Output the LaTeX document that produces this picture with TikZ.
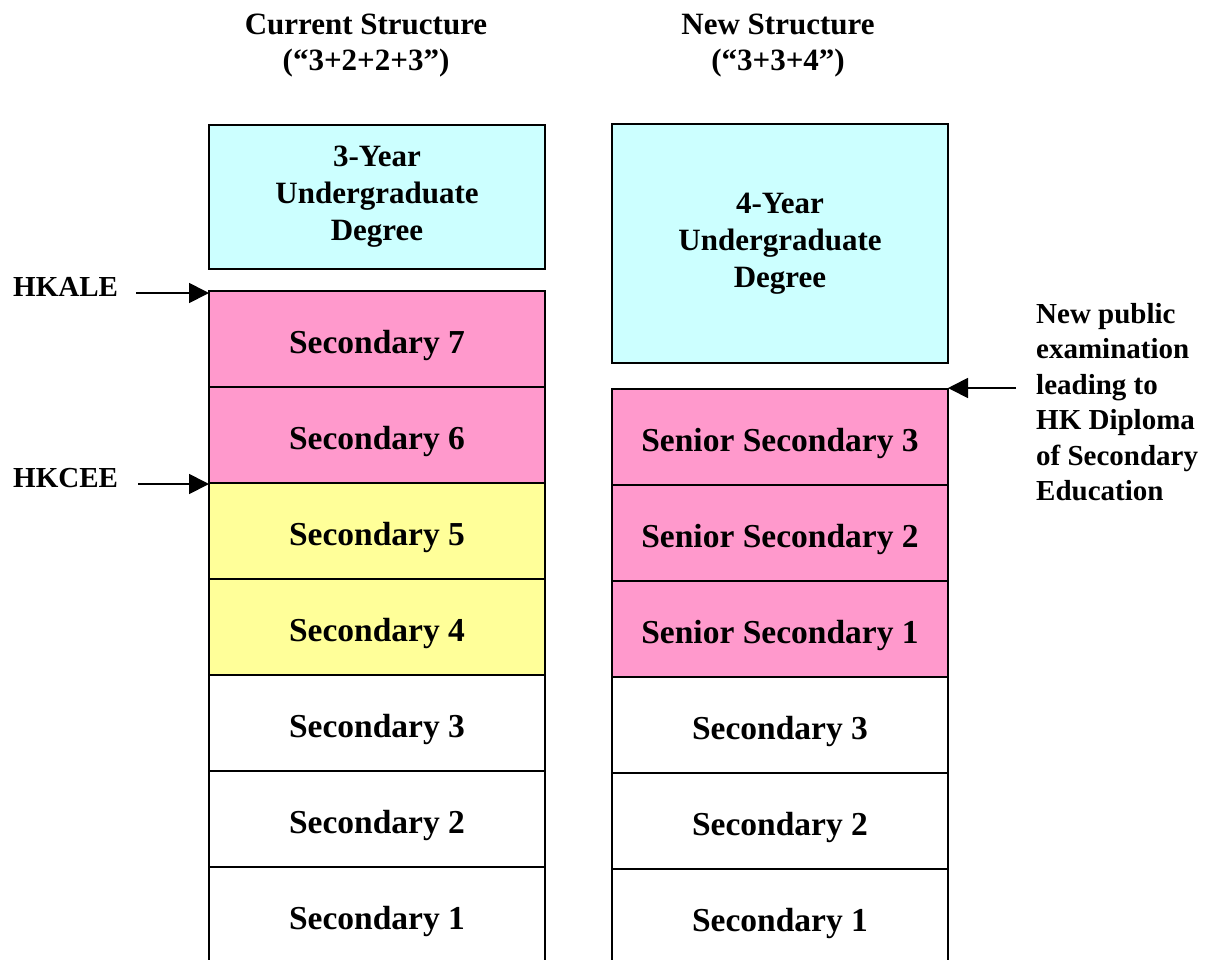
\documentclass[tikz,border=0pt]{standalone}
\usepackage{fontspec}
\setmainfont{Liberation Serif}
\usetikzlibrary{arrows.meta}
\definecolor{cyanbox}{HTML}{CCFFFF}
\definecolor{pinkbox}{HTML}{FF99CC}
\definecolor{yellowbox}{HTML}{FFFF99}
\begin{document}
\begin{tikzpicture}[x=1pt,y=-1pt,
  basebox/.style={draw=black, line width=1.8pt, minimum width=336pt,
    inner sep=0pt, outer sep=0pt, anchor=north west},
  box/.style={basebox, minimum height=96pt, text height=29pt, text depth=0pt,
    font=\fontsize{33.5}{38}\selectfont\bfseries},
  pinkrow/.style={box, fill=pinkbox},
  yellowrow/.style={box, fill=yellowbox},
  whiterow/.style={box, fill=white},
  degree/.style={basebox, fill=cyanbox, align=center,
    font=\fontsize{31}{37}\selectfont\bfseries},
  header/.style={anchor=north, align=center, inner sep=0pt,
    font=\fontsize{31}{35.5}\selectfont\bfseries},
  exam/.style={anchor=base west, inner sep=0pt, font=\fontsize{29}{35}\selectfont\bfseries},
  note/.style={anchor=north west, align=left, inner sep=0pt,
    font=\fontsize{29}{35.5}\selectfont\bfseries},
  arr/.style={-{Triangle[length=20pt,width=20pt]}, line width=1.8pt, draw=black}
]
\clip (0,0) rectangle (1210,959);
\fill[white] (0,0) rectangle (1210,959);

% headers
\node[header] (hcur) at (366,14) {Current Structure\\(“3+2+2+3”)};
\node[header] (hnew) at (778,14) {New Structure\\(“3+3+4”)};

% current structure column
\node[degree, minimum height=144pt] (deg3) at (209,125) {3-Year\\Undergraduate\\Degree};
\node[pinkrow]   (s7) at (209,291) {Secondary 7};
\node[pinkrow]   (s6) at (209,387) {Secondary 6};
\node[yellowrow] (s5) at (209,483) {Secondary 5};
\node[yellowrow] (s4) at (209,579) {Secondary 4};
\node[whiterow]  (s3) at (209,675) {Secondary 3};
\node[whiterow]  (s2) at (209,771) {Secondary 2};
\node[whiterow]  (s1) at (209,867) {Secondary 1};

% new structure column
\node[degree, minimum height=239pt] (deg4) at (612,124) {4-Year\\Undergraduate\\Degree};
\node[pinkrow]  (ss3) at (612,389) {Senior Secondary 3};
\node[pinkrow]  (ss2) at (612,485) {Senior Secondary 2};
\node[pinkrow]  (ss1) at (612,581) {Senior Secondary 1};
\node[whiterow] (n3) at (612,677) {Secondary 3};
\node[whiterow] (n2) at (612,773) {Secondary 2};
\node[whiterow] (n1) at (612,869) {Secondary 1};

% exam labels and arrows
\node[exam] (hkale) at (13,296) {HKALE};
\node[exam] (hkcee) at (13,487) {HKCEE};
\node[note] (dse) at (1036,303) {New public\\examination\\leading to\\HK Diploma\\of Secondary\\Education};

\coordinate (a1) at (136,293);
\coordinate (a2) at (138,484);
\coordinate (a3) at (1016,388);
\draw[arr] (a1) -- (a1 -| s7.west);
\draw[arr] (a2) -- (a2 -| s5.west);
\draw[arr] (a3) -- (a3 -| ss3.east);
\end{tikzpicture}
\end{document}
